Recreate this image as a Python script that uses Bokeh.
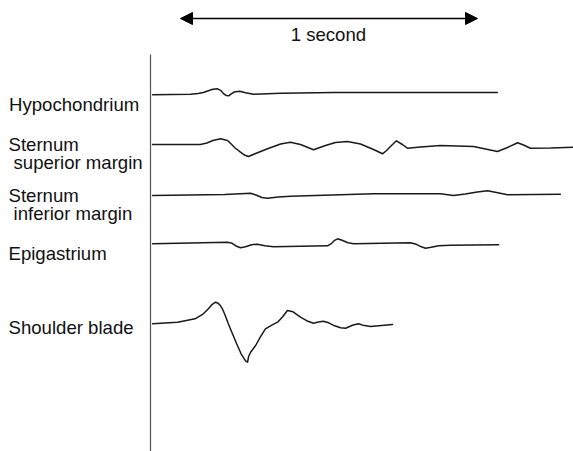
from bokeh.plotting import figure
from bokeh.models import Range1d, Label, Arrow, NormalHead
from bokeh.embed import file_html
from bokeh.resources import INLINE

# Time in ms (0 = vertical reference line), amplitude in arbitrary units (up positive)
hypo_t = [7, 135, 160, 178, 195, 210, 226, 236, 245, 255, 263, 272, 282, 300, 320, 347, 438, 616, 1168]
hypo_a = [0, 0.6, 1.2, 2.3, 4.0, 5.5, 6.0, 4.5, 1.5, -0.8, -1.0, 1.0, 2.8, 3.6, 2.0, 0.6, 1.6, 2.3, 2.3]

sup_t = [7, 168, 190, 210, 236, 259, 270, 285, 303, 318, 330, 354, 394, 438, 471, 505, 549, 589, 623, 663, 707, 751, 781, 795, 808, 828, 848, 865, 909, 976, 1088, 1128, 1168, 1202, 1236, 1256, 1279, 1347, 1424]
sup_a = [0, 0, 1.5, 4.0, 5.7, 4.0, 1.0, -3.5, -7.7, -10.8, -12.0, -9.0, -4.3, 0.5, 2.3, 0, -5.3, -1.0, 2.0, 3.0, 0.5, -5.0, -9.3, -6.0, -2.0, 3.7, 0, -3.7, -2.5, -1.0, -2.0, -4.5, -7.0, -3.0, 1.7, -0.5, -3.7, -3.5, -2.7]

inf_t = [7, 250, 337, 355, 375, 394, 430, 471, 751, 976, 1020, 1060, 1100, 1135, 1165, 1202, 1380]
inf_a = [0, 1.0, 2.3, 0.5, -2.0, -2.7, -1.5, -0.7, 1.7, 1.7, 0, 1.5, 3.5, 4.7, 3.0, 0.7, 1.3]

epi_t = [7, 259, 275, 290, 303, 320, 340, 360, 385, 414, 596, 610, 620, 630, 645, 665, 684, 875, 895, 912, 926, 945, 970, 1010, 1172]
epi_a = [0, 1.6, 0.5, -2.5, -4.0, -3.0, -1.0, -0.4, -2.0, -3.0, -2.0, 0.5, 3.5, 5.0, 3.5, 1.0, 0, 1.0, -0.5, -3.0, -4.4, -3.5, -2.0, -1.4, -1.0]

sh_t = [7, 91, 150, 178, 195, 208, 219, 228, 236, 242, 252, 262, 276, 290, 305, 320, 327, 330, 337, 354, 370, 387, 410, 428, 445, 461, 480, 505, 530, 549, 565, 582, 600, 620, 640, 657, 680, 700, 720, 741, 815]
sh_a = [0, 1.6, 5.0, 10.0, 15.0, 19.5, 21.6, 20.5, 18.0, 15.0, 8.0, 0, -10.0, -20.0, -30.0, -37.0, -38.4, -33.0, -28.4, -21.7, -13.0, -5.0, -1.0, 1.6, 7.0, 13.3, 12.0, 6.6, 2.5, 0.6, 1.8, 2.6, 1.0, -2.0, -4.0, -4.4, -1.5, 0, -1.8, -2.7, -0.7]

labels = ["Hypochondrium", "Sternum", "superior margin", "Sternum",
          "inferior margin", "Epigastrium", "Shoulder blade"]
label_y = [339, 298.7, 281.3, 248, 230.5, 190.5, 116.3]
label_x = [8.5, 8, 13, 8, 13, 8, 8]

baselines = [348.7, 299, 248, 199.7, 119.7]
traces = [(hypo_t, hypo_a), (sup_t, sup_a), (inf_t, inf_a), (epi_t, epi_a), (sh_t, sh_a)]

FONT = "Liberation Sans"
FS = "18.6px"

p = figure(width=573, height=451, output_backend="svg", toolbar_location=None,
           x_range=Range1d(-505.05, 1424.2), y_range=Range1d(-8, 443),
           min_border=0, min_border_left=0, min_border_right=0,
           min_border_top=0, min_border_bottom=0)
p.axis.visible = False
p.grid.visible = False
p.outline_line_color = None
p.background_fill_color = "white"

# vertical reference line
p.segment(x0=[0], y0=[389], x1=[0], y1=[-8], line_color="#555555", line_width=1.2)

for (t, a), b in zip(traces, baselines):
    p.line(t, [b + v for v in a], line_color="#1a1a1a", line_width=1.5,
           line_join="round", line_cap="round")

for txt, lx, ly in zip(labels, label_x, label_y):
    p.add_layout(Label(x=lx, y=ly, x_units="screen", y_units="data", text=txt,
                       text_font=FONT, text_font_size=FS, text_color="#111111",
                       text_baseline="alphabetic"))

# 1 second scale bar
p.add_layout(Arrow(x_start=101, x_end=1101, y_start=425, y_end=425,
                   line_color="black", line_width=1.3,
                   start=NormalHead(size=12, fill_color="black", line_color="black"),
                   end=NormalHead(size=12, fill_color="black", line_color="black")))
p.add_layout(Label(x=599, y=408.7, text="1 second", text_align="center",
                   text_baseline="alphabetic", text_font=FONT, text_font_size=FS,
                   text_color="#111111"))

open("out.html", "w").write(file_html(p, INLINE))
